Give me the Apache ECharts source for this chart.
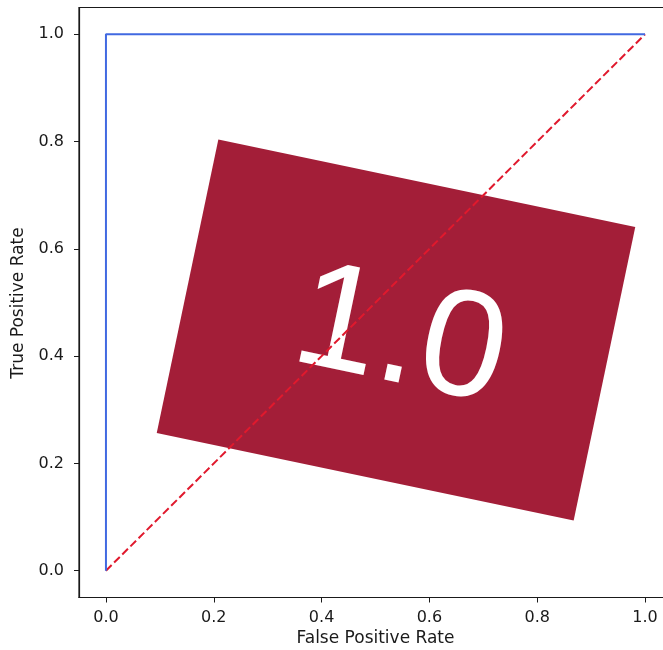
<!DOCTYPE html>
<html lang="en">
<head>
    <meta charset="UTF-8">
    <title>ROC Curve</title>
    <script src="https://cdn.jsdelivr.net/npm/echarts@6/dist/echarts.min.js"></script>
    <style>
        body, html {
            margin: 0;
            padding: 0;
            width: 100%;
            height: 100%;
            overflow: hidden;
            background-color: #fff;
        }
        #container {
            width: 663px;
            height: 650px;
        }
    </style>
</head>
<body>
    <div id="container"></div>
    <script>
        // ROC 曲线数据
        var fpr = [0, 0, 1];
        var tpr = [0, 1, 1];
        // 随机猜测的对角线
        var chanceX = [0, 1];
        var chanceY = [0, 1];
        var tickValues = [0, 0.2, 0.4, 0.6, 0.8, 1.0];
        var aucText = '1.0';

        function pairs(xs, ys) {
            return xs.map(function (x, i) { return [x, ys[i]]; });
        }

        var tickStyle = {
            fontFamily: 'DejaVu Sans',
            fontSize: 16,
            color: '#1a1a1a'
        };

        var option = {
            backgroundColor: '#fff',
            animation: false,
            grid: {
                left: 79,
                top: 7.5,
                width: 593,
                height: 590,
                outerBoundsMode: 'none',
                containLabel: false,
                show: true,
                borderColor: '#1a1a1a',
                borderWidth: 1.2
            },
            xAxis: {
                type: 'value',
                min: -0.05,
                max: 1.05,
                name: 'False Positive Rate',
                nameLocation: 'middle',
                nameGap: 33,
                nameTextStyle: { fontFamily: 'DejaVu Sans', fontSize: 17, color: '#1a1a1a' },
                axisLine: { show: true, onZero: false, lineStyle: { color: '#1a1a1a', width: 1.2 } },
                axisTick: { show: true, inside: false, length: 5, customValues: tickValues,
                    lineStyle: { color: '#1a1a1a' } },
                axisLabel: Object.assign({
                    margin: 12,
                    customValues: tickValues,
                    formatter: function (v) { return v.toFixed(1); }
                }, tickStyle),
                splitLine: { show: false }
            },
            yAxis: {
                type: 'value',
                min: -0.05,
                max: 1.05,
                axisLine: { show: true, onZero: false, lineStyle: { color: '#1a1a1a', width: 1.2 } },
                axisTick: { show: true, inside: false, length: 5, customValues: tickValues,
                    lineStyle: { color: '#1a1a1a' } },
                axisLabel: Object.assign({
                    margin: 15,
                    customValues: tickValues,
                    formatter: function (v) { return v.toFixed(1); }
                }, tickStyle),
                splitLine: { show: false }
            },
            series: [
                {
                    type: 'line',
                    data: pairs(fpr, tpr),
                    showSymbol: false,
                    lineStyle: { color: '#4169e1', width: 2 },
                    z: 3
                },
                {
                    type: 'line',
                    data: pairs(chanceX, chanceY),
                    showSymbol: false,
                    lineStyle: { color: '#e0192d', width: 2, type: [8, 3.5] },
                    z: 2
                }
            ],
            graphic: [
                {
                    type: 'text',
                    x: 19,
                    y: 303,
                    rotation: Math.PI / 2,
                    style: {
                        text: 'True Positive Rate',
                        fontFamily: 'DejaVu Sans',
                        fontSize: 17,
                        fill: '#1a1a1a',
                        align: 'center',
                        verticalAlign: 'middle'
                    }
                },
                {
                    type: 'group',
                    x: 396,
                    y: 330,
                    rotation: -11.85 * Math.PI / 180,
                    z: 100,
                    children: [
                        {
                            type: 'rect',
                            shape: { x: -213, y: -150, width: 426, height: 300 },
                            style: { fill: '#a31e38' }
                        },
                        {
                            type: 'text',
                            x: 6,
                            y: 9,
                            style: {
                                text: aucText,
                                fontFamily: 'Arial, "Liberation Sans", Helvetica, sans-serif',
                                fontSize: 152,
                                fill: '#fff',
                                align: 'center',
                                verticalAlign: 'middle'
                            }
                        }
                    ]
                }
            ]
        };

        var chart = echarts.init(document.getElementById('container'));
        chart.setOption(option);
    </script>
</body>
</html>
